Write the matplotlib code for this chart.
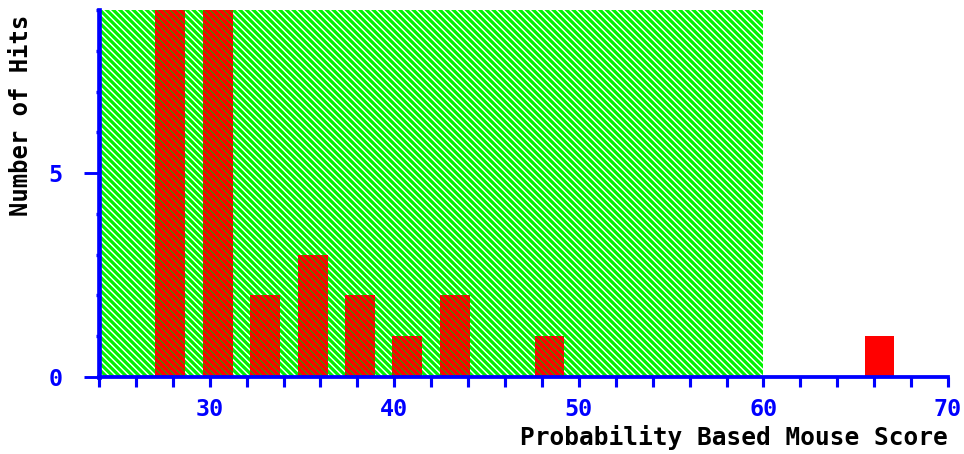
import matplotlib
matplotlib.use('Agg')
from matplotlib import pyplot as plt
from matplotlib.ticker import MultipleLocator

# histogram of mouse scores
bin_centers = [27.85, 30.45, 33.0, 35.6, 38.15, 40.7, 43.3, 48.4, 66.3]
hit_counts = [12, 10, 2, 3, 2, 1, 2, 1, 1]
bar_width = 1.6

# shaded score range
region_start = 24
region_end = 60

x_limits = (24, 70)
y_limits = (0, 9)
x_major = [30, 40, 50, 60, 70]
y_major = [0, 5]

BLUE = '#0000ff'
GREEN = '#00f400'
RED = '#ff0000'
HATCH = '\\' * 4

DPI = 80
plt.rcParams['font.family'] = ['DejaVu Sans Mono']
plt.rcParams['font.weight'] = 'bold'
plt.rcParams['hatch.linewidth'] = 1.3

fig = plt.figure(figsize=(964 / DPI, 454 / DPI), dpi=DPI)
ax = fig.add_axes([99 / 964, 77 / 454, (948 - 99) / 964, (377 - 10) / 454])

span = ax.axvspan(region_start, region_end, facecolor=GREEN, edgecolor='white',
                  hatch=HATCH, linewidth=0, zorder=1)

bars = ax.bar(bin_centers, hit_counts, width=bar_width, color=RED,
              linewidth=0, zorder=2)

# the green shading shows through the bars that sit inside the range
inside_x = [x for x in bin_centers if region_start <= x <= region_end]
inside_h = [h for x, h in zip(bin_centers, hit_counts)
            if region_start <= x <= region_end]
overlay = ax.bar(inside_x, inside_h, width=bar_width, facecolor='none',
                 edgecolor='#30a000', linewidth=0, zorder=3)
for p in overlay:
    p.set_hatch(HATCH)
    if hasattr(p, 'set_hatch_linewidth'):
        p.set_hatch_linewidth(1.0)

ax.set_xlim(*x_limits)
ax.set_ylim(*y_limits)

for side in ('top', 'right'):
    ax.spines[side].set_visible(False)
ax.spines['left'].set_linewidth(4.2)
ax.spines['bottom'].set_linewidth(3.4)
for side in ('left', 'bottom'):
    ax.spines[side].set_color(BLUE)
    ax.spines[side].set_zorder(5)

ax.set_xticks(x_major)
ax.xaxis.set_minor_locator(MultipleLocator(2))
ax.set_yticks(y_major)
ax.yaxis.set_minor_locator(MultipleLocator(1))

ax.tick_params(axis='x', which='both', direction='out', length=9, width=2.8,
               color=BLUE, labelcolor=BLUE, labelsize=21, pad=10)
ax.tick_params(axis='y', which='major', direction='out', length=13.5, width=2.6,
               color=BLUE, labelcolor=BLUE, labelsize=21, pad=19)
ax.tick_params(axis='y', which='minor', direction='out', length=3, width=3,
               color=BLUE)

ax.set_xlabel('Probability Based Mouse Score', fontsize=22, fontweight='bold',
              color='black', loc='right')
ax.xaxis.set_label_coords(1.0, -0.13)
ax.set_ylabel('Number of Hits', fontsize=21.5, fontweight='bold', color='black')
ax.yaxis.set_label_coords(-0.078, 0.714)

fig.savefig('out.png', dpi=DPI)
